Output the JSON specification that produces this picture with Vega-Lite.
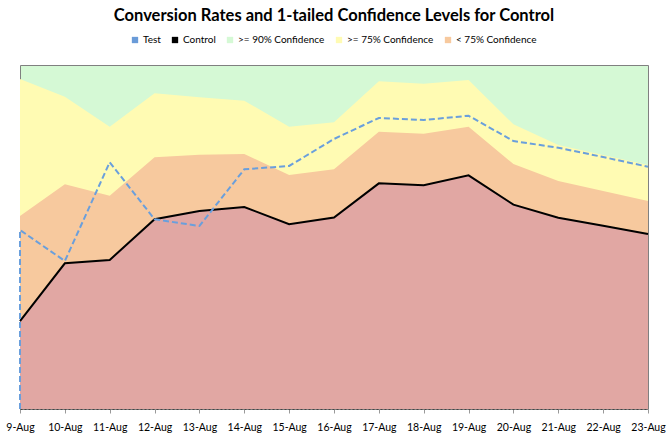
{
  "$schema": "https://vega.github.io/schema/vega-lite/v6.json",
  "width": 628,
  "height": 344,
  "autosize": {"type": "none"},
  "padding": {"left": 20, "top": 65, "right": 19, "bottom": 30},
  "background": "white",
  "title": {
    "text": "Conversion Rates and 1-tailed Confidence Levels for Control",
    "font": "Lato",
    "fontSize": 16.5,
    "fontWeight": "bold",
    "color": "black",
    "anchor": "middle",
    "offset": 11
  },
  "config": {
    "font": "Lato",
    "view": {"fill": "#D5F9D5", "stroke": "#808080", "strokeWidth": 1}
  },
  "datasets": {
    "bands": [
      {"date": "9-Aug", "c90": 3.837, "c75": 2.244, "control": 1.023},
      {"date": "10-Aug", "c90": 3.631, "c75": 2.613, "control": 1.694},
      {"date": "11-Aug", "c90": 3.283, "c75": 2.480, "control": 1.733},
      {"date": "12-Aug", "c90": 3.671, "c75": 2.927, "control": 2.206},
      {"date": "13-Aug", "c90": 3.624, "c75": 2.957, "control": 2.302},
      {"date": "14-Aug", "c90": 3.585, "c75": 2.965, "control": 2.349},
      {"date": "15-Aug", "c90": 3.283, "c75": 2.721, "control": 2.148},
      {"date": "16-Aug", "c90": 3.334, "c75": 2.787, "control": 2.227},
      {"date": "17-Aug", "c90": 3.810, "c75": 3.224, "control": 2.624},
      {"date": "18-Aug", "c90": 3.783, "c75": 3.201, "control": 2.601},
      {"date": "19-Aug", "c90": 3.826, "c75": 3.283, "control": 2.717},
      {"date": "20-Aug", "c90": 3.310, "c75": 2.849, "control": 2.376},
      {"date": "21-Aug", "c90": 3.070, "c75": 2.651, "control": 2.224},
      {"date": "22-Aug", "c90": 2.953, "c75": 2.535, "control": 2.131},
      {"date": "23-Aug", "c90": 2.837, "c75": 2.419, "control": 2.035}
    ],
    "test": [
      {"date": "9-Aug", "k": 0, "rate": 0},
      {"date": "9-Aug", "k": 1, "rate": 2.081},
      {"date": "10-Aug", "k": 2, "rate": 1.721},
      {"date": "11-Aug", "k": 3, "rate": 2.869},
      {"date": "12-Aug", "k": 4, "rate": 2.206},
      {"date": "13-Aug", "k": 5, "rate": 2.128},
      {"date": "14-Aug", "k": 6, "rate": 2.787},
      {"date": "15-Aug", "k": 7, "rate": 2.826},
      {"date": "16-Aug", "k": 8, "rate": 3.140},
      {"date": "17-Aug", "k": 9, "rate": 3.384},
      {"date": "18-Aug", "k": 10, "rate": 3.360},
      {"date": "19-Aug", "k": 11, "rate": 3.410},
      {"date": "20-Aug", "k": 12, "rate": 3.116},
      {"date": "21-Aug", "k": 13, "rate": 3.038},
      {"date": "22-Aug", "k": 14, "rate": 2.930},
      {"date": "23-Aug", "k": 15, "rate": 2.817}
    ]
  },
  "encoding": {
    "x": {
      "field": "date",
      "type": "ordinal",
      "sort": null,
      "scale": {
        "type": "point",
        "padding": 0,
        "domain": ["9-Aug", "10-Aug", "11-Aug", "12-Aug", "13-Aug", "14-Aug", "15-Aug", "16-Aug", "17-Aug", "18-Aug", "19-Aug", "20-Aug", "21-Aug", "22-Aug", "23-Aug"]
      },
      "axis": {
        "title": null,
        "labelAngle": 0,
        "labelFont": "Lato",
        "labelFontSize": 10.5,
        "labelColor": "black",
        "labelPadding": 9,
        "domainColor": "#444444",
        "domainDash": [2, 2],
        "tickColor": "#999999",
        "tickSize": 4,
        "grid": false
      }
    }
  },
  "layer": [
    {
      "data": {"name": "bands"},
      "mark": {"type": "area", "opacity": 1},
      "encoding": {
        "y": {"field": "c90", "type": "quantitative", "scale": {"domain": [0, 4]}, "axis": null},
        "color": {
          "datum": ">= 75% Confidence",
          "type": "nominal",
          "scale": {
            "domain": ["Test", "Control", ">= 90% Confidence", ">= 75% Confidence", "< 75% Confidence"],
            "range": ["#6A9BD8", "#000000", "#D5F9D5", "#FFFBB3", "#F7C99E"]
          },
          "legend": {
            "orient": "none",
            "legendX": 110,
            "legendY": -30,
            "direction": "horizontal",
            "title": null,
            "symbolType": "square",
            "symbolSize": 40,
            "symbolStrokeWidth": 0,
            "symbolOpacity": 1,
            "labelFont": "Lato",
            "labelFontSize": 10,
            "labelColor": "black",
            "labelOffset": 3,
            "columnPadding": 9
          }
        }
      }
    },
    {
      "data": {"name": "bands"},
      "mark": {"type": "area", "opacity": 1},
      "encoding": {
        "y": {"field": "c75", "type": "quantitative"},
        "color": {"datum": "< 75% Confidence", "type": "nominal"}
      }
    },
    {
      "data": {"name": "bands"},
      "mark": {"type": "area", "opacity": 1, "color": "#E1A7A3"},
      "encoding": {
        "y": {"field": "control", "type": "quantitative"}
      }
    },
    {
      "data": {"name": "bands"},
      "mark": {"type": "line", "color": "black", "strokeWidth": 2},
      "encoding": {
        "y": {"field": "control", "type": "quantitative"}
      }
    },
    {
      "data": {"name": "test"},
      "mark": {"type": "line", "color": "#6A9FDC", "strokeWidth": 2, "strokeDash": [6, 3]},
      "encoding": {
        "y": {"field": "rate", "type": "quantitative"},
        "order": {"field": "k", "type": "quantitative"}
      }
    }
  ]
}
